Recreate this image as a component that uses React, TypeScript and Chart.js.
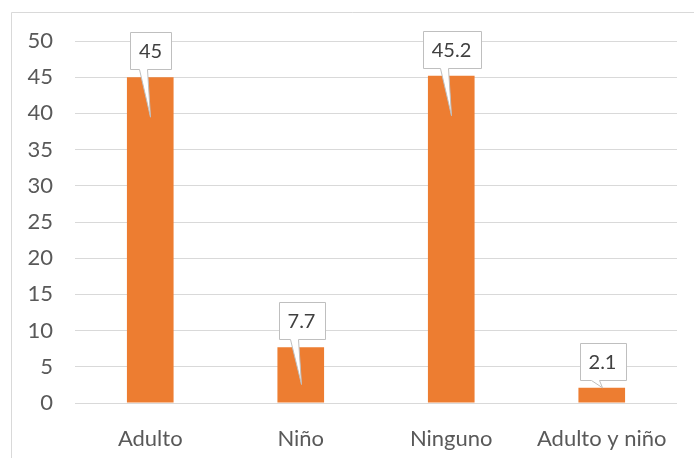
import React, { useEffect, useRef } from "react";
import { Chart, registerables } from "chart.js";

Chart.register(...registerables);

const categories = ["Adulto", "Niño", "Ninguno", "Adulto y niño"];
const values = [45, 7.7, 45.2, 2.1];
const valueLabels = ["45", "7.7", "45.2", "2.1"];
const yMin = 0;
const yMax = 50;
const yStep = 5;

const FONT = "Lato, 'Open Sans', sans-serif";
const TEXT = "#595959";
const GRID = "#D9D9D9";
const BAR = "#ED7D31";

const frame = {
  id: "frame",
  beforeDraw(chart: any) {
    const { ctx, width, height } = chart;
    ctx.save();
    ctx.fillStyle = "#ffffff";
    ctx.fillRect(0, 0, width, height);
    ctx.strokeStyle = GRID;
    ctx.lineWidth = 1;
    ctx.beginPath();
    ctx.moveTo(11.5, height);
    ctx.lineTo(11.5, 12.5);
    ctx.lineTo(width, 12.5);
    ctx.stroke();
    ctx.restore();
  },
};

const callouts = {
  id: "callouts",
  afterDatasetsDraw(chart: any) {
    const { ctx } = chart;
    const meta = chart.getDatasetMeta(0);
    ctx.save();
    ctx.font = `20px ${FONT}`;
    meta.data.forEach((bar: any, i: number) => {
      const cx = Math.round(bar.x) + 0.5;
      const top = bar.y;
      const h = bar.base - bar.y;
      const tipY = top + Math.min(40, Math.max(0, h - 18));
      const label = valueLabels[i];
      const tw = ctx.measureText(label).width;
      const bw = Math.round(tw + 18);
      const bh = 37;
      const bottom = Math.round(top - 8) + 0.5;
      const left = Math.round(cx - bw / 2) + 0.5;
      const boxTop = bottom - bh;
      ctx.beginPath();
      ctx.moveTo(left, boxTop);
      ctx.lineTo(left + bw, boxTop);
      ctx.lineTo(left + bw, bottom);
      ctx.lineTo(cx - 3, bottom);
      ctx.lineTo(cx, tipY);
      ctx.lineTo(cx - 11, bottom);
      ctx.lineTo(left, bottom);
      ctx.closePath();
      ctx.fillStyle = "#ffffff";
      ctx.fill();
      ctx.strokeStyle = "#BFBFBF";
      ctx.lineWidth = 1;
      ctx.stroke();
      ctx.fillStyle = "#404040";
      ctx.textAlign = "center";
      ctx.textBaseline = "middle";
      ctx.fillText(label, cx, boxTop + bh / 2 + 1);
    });
    ctx.restore();
  },
};

export default function App() {
  const ref = useRef<HTMLCanvasElement | null>(null);
  useEffect(() => {
    document.body.style.margin = "0";
    const chart = new Chart(ref.current!, {
      type: "bar",
      data: {
        labels: categories,
        datasets: [
          {
            data: values,
            backgroundColor: BAR,
            borderWidth: 0,
            categoryPercentage: 1,
            barPercentage: 0.31,
          },
        ],
      },
      options: {
        responsive: false,
        animation: false,
        devicePixelRatio: 1,
        layout: { padding: { top: 41, right: 17, left: 0, bottom: 0 } },
        plugins: { legend: { display: false }, tooltip: { enabled: false } },
        scales: {
          x: {
            grid: { display: false },
            border: { display: false },
            ticks: {
              color: TEXT,
              font: { family: FONT, size: 22 },
              padding: 15,
              maxRotation: 0,
              autoSkip: false,
            },
            afterFit(scale: any) {
              scale.height = 55;
            },
          },
          y: {
            min: yMin,
            max: yMax,
            grid: { color: GRID, drawTicks: false },
            border: { display: false },
            ticks: {
              stepSize: yStep,
              color: TEXT,
              font: { family: FONT, size: 22 },
              padding: 22,
            },
            afterFit(scale: any) {
              scale.width = 75;
            },
          },
        },
      },
      plugins: [frame, callouts],
    });
    return () => chart.destroy();
  }, []);
  return (
    <div style={{ width: 694, height: 458 }}>
      <canvas ref={ref} width={694} height={458} />
    </div>
  );
}
